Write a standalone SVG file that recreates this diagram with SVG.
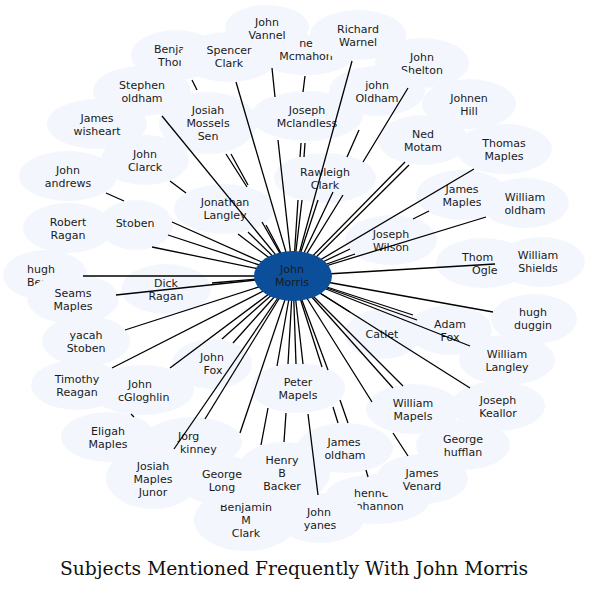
<svg xmlns="http://www.w3.org/2000/svg" width="589" height="590" viewBox="0 0 589 590">
<style>
.n ellipse{fill:#f3f7fd}
.c ellipse{fill:#0b4f9b}
text{font-family:"DejaVu Sans","Liberation Sans",sans-serif;font-size:11px;fill:#1a1a1a;text-anchor:middle}
text.s{text-anchor:start}
.e path{stroke:#000;stroke-width:1.3;fill:none}
.t{font-family:"DejaVu Serif","Liberation Serif",serif;font-size:18px;fill:#111}
</style>
<rect width="589" height="590" fill="#fff"/>
<g id="n-mcmahon" class="n"><ellipse cx="306" cy="55" rx="48" ry="20"/><text x="306" y="47">ne</text><text x="306" y="60">Mcmahon</text></g>
<g id="n-richard-warnel" class="n"><ellipse cx="358" cy="35" rx="48" ry="25"/><text x="358" y="32.5">Richard</text><text x="358" y="45.5">Warnel</text></g>
<g id="n-benja" class="n"><ellipse cx="176" cy="55" rx="45" ry="25"/><text class="s" x="154" y="52.5">Benja</text><text class="s" x="158" y="65.5">Thor</text></g>
<g id="n-spencer-clark" class="n"><ellipse cx="229" cy="57" rx="49" ry="25"/><text x="229" y="54">Spencer</text><text x="229" y="67">Clark</text></g>
<g id="n-john-vannel" class="n"><ellipse cx="267" cy="27" rx="42" ry="22"/><text x="267" y="26">John</text><text x="267" y="39">Vannel</text></g>
<g id="n-john-shelton" class="n"><ellipse cx="422" cy="63" rx="47" ry="25"/><text x="422" y="60.5">John</text><text x="422" y="73.5">Shelton</text></g>
<g id="n-stephen-oldham" class="n"><ellipse cx="142" cy="91" rx="49" ry="25"/><text x="142" y="88.5">Stephen</text><text x="142" y="101.5">oldham</text></g>
<g id="n-john-oldham" class="n"><ellipse cx="377" cy="91" rx="48" ry="25"/><text x="377" y="88.5">john</text><text x="377" y="101.5">Oldham</text></g>
<g id="n-johnen-hill" class="n"><ellipse cx="469" cy="104" rx="47" ry="25"/><text x="469" y="101.5">Johnen</text><text x="469" y="114.5">Hill</text></g>
<g id="n-james-wisheart" class="n"><ellipse cx="97" cy="124" rx="50" ry="25"/><text x="97" y="121.5">James</text><text x="97" y="134.5">wisheart</text></g>
<g id="n-josiah-mossels-sen" class="n"><ellipse cx="208" cy="123" rx="49" ry="31"/><text x="208" y="114">Josiah</text><text x="208" y="127">Mossels</text><text x="208" y="140">Sen</text></g>
<g id="n-joseph-mclandless" class="n"><ellipse cx="307" cy="116" rx="56" ry="25"/><text x="307" y="113.5">Joseph</text><text x="307" y="126.5">Mclandless</text></g>
<g id="n-ned-motam" class="n"><ellipse cx="423" cy="140" rx="45" ry="25"/><text x="423" y="137.5">Ned</text><text x="423" y="150.5">Motam</text></g>
<g id="n-thomas-maples" class="n"><ellipse cx="504" cy="149" rx="48" ry="25"/><text x="504" y="146.5">Thomas</text><text x="504" y="159.5">Maples</text></g>
<g id="n-john-clarck" class="n"><ellipse cx="145" cy="160" rx="44" ry="25"/><text x="145" y="157.5">John</text><text x="145" y="170.5">Clarck</text></g>
<g id="n-john-andrews" class="n"><ellipse cx="68" cy="176" rx="49" ry="25"/><text x="68" y="173.5">John</text><text x="68" y="186.5">andrews</text></g>
<g id="n-rawleigh-clark" class="n"><ellipse cx="325" cy="178" rx="51" ry="25"/><text x="325" y="175.5">Rawleigh</text><text x="325" y="188.5">Clark</text></g>
<g id="n-james-maples" class="n"><ellipse cx="462" cy="195" rx="46" ry="25"/><text x="462" y="192.5">James</text><text x="462" y="205.5">Maples</text></g>
<g id="n-william-oldham" class="n"><ellipse cx="525" cy="203" rx="44" ry="25"/><text x="525" y="200.5">William</text><text x="525" y="213.5">oldham</text></g>
<g id="n-jonathan-langley" class="n"><ellipse cx="224" cy="209" rx="50" ry="25"/><text x="225" y="205.5">Jonathan</text><text x="225" y="218.5">Langley</text></g>
<g id="n-robert-ragan" class="n"><ellipse cx="68" cy="228" rx="45" ry="25"/><text x="68" y="225.5">Robert</text><text x="68" y="238.5">Ragan</text></g>
<g id="n-stoben" class="n"><ellipse cx="136" cy="225" rx="37" ry="25"/><text x="135" y="227">Stoben</text></g>
<g id="n-joseph-wilson" class="n"><ellipse cx="391" cy="240" rx="46" ry="25"/><text x="391" y="237.5">Joseph</text><text x="391" y="250.5">Wilson</text></g>
<g id="n-thomas-ogle" class="n"><ellipse cx="483" cy="263" rx="47" ry="25"/><text class="s" x="462" y="260.5">Thom</text><text class="s" x="472" y="273.5">Ogle</text></g>
<g id="n-william-shields" class="n"><ellipse cx="541" cy="262" rx="44" ry="25"/><text x="538" y="258.5">William</text><text x="538" y="271.5">Shields</text></g>
<g id="n-hugh-ben" class="n"><ellipse cx="45" cy="275" rx="42" ry="25"/><text class="s" x="27" y="272.5">hugh</text><text class="s" x="27" y="285.5">Ben</text></g>
<g id="n-dick-ragan" class="n"><ellipse cx="166" cy="289" rx="45" ry="25"/><text x="166" y="286.5">Dick</text><text x="166" y="299.5">Ragan</text></g>
<g id="n-seams-maples" class="n"><ellipse cx="73" cy="299" rx="46" ry="25"/><text x="73" y="296.5">Seams</text><text x="73" y="309.5">Maples</text></g>
<g id="n-hugh-duggin" class="n"><ellipse cx="534" cy="319" rx="43" ry="25"/><text x="533" y="315.5">hugh</text><text x="533" y="328.5">duggin</text></g>
<g id="n-adam-fox" class="n"><ellipse cx="450" cy="330" rx="42" ry="25"/><text x="450" y="327.5">Adam</text><text x="450" y="340.5">Fox</text></g>
<g id="n-catlet" class="n"><ellipse cx="383" cy="334" rx="38" ry="25"/><text x="382" y="338">Catlet</text></g>
<g id="n-yacah-stoben" class="n"><ellipse cx="86" cy="341" rx="44" ry="25"/><text x="86" y="338.5">yacah</text><text x="86" y="351.5">Stoben</text></g>
<g id="n-william-langley" class="n"><ellipse cx="507" cy="360" rx="48" ry="25"/><text x="507" y="357.5">William</text><text x="507" y="370.5">Langley</text></g>
<g id="n-john-fox" class="n"><ellipse cx="212" cy="364" rx="40" ry="25"/><text x="212" y="361">John</text><text x="213" y="374">Fox</text></g>
<g id="n-john-mcgloghlin" class="n"><ellipse cx="142" cy="390" rx="52" ry="25"/><text x="140" y="387.5">John</text><text class="s" x="118" y="400.5">cGloghlin</text></g>
<g id="n-timothy-reagan" class="n"><ellipse cx="77" cy="385" rx="46" ry="25"/><text x="77" y="382.5">Timothy</text><text x="77" y="395.5">Reagan</text></g>
<g id="n-peter-mapels" class="n"><ellipse cx="298" cy="388" rx="47" ry="25"/><text x="298" y="385.5">Peter</text><text x="298" y="398.5">Mapels</text></g>
<g id="n-joseph-keallor" class="n"><ellipse cx="498" cy="406" rx="47" ry="25"/><text x="498" y="403.5">Joseph</text><text x="498" y="416.5">Keallor</text></g>
<g id="n-william-mapels" class="n"><ellipse cx="413" cy="409" rx="47" ry="25"/><text x="413" y="406.5">William</text><text x="413" y="419.5">Mapels</text></g>
<g id="n-eligah-maples" class="n"><ellipse cx="108" cy="437" rx="47" ry="25"/><text x="108" y="435">Eligah</text><text x="108" y="448">Maples</text></g>
<g id="n-jorg-mckinney" class="n"><ellipse cx="192" cy="442" rx="50" ry="25"/><text class="s" x="178" y="439.5">Jorg</text><text class="s" x="180" y="452.5">kinney</text></g>
<g id="n-george-hufflan" class="n"><ellipse cx="463" cy="445" rx="47" ry="25"/><text x="463" y="442.5">George</text><text x="463" y="455.5">hufflan</text></g>
<g id="n-james-oldham" class="n"><ellipse cx="345" cy="448" rx="48" ry="25"/><text x="344" y="445.5">James</text><text x="345" y="458.5">oldham</text></g>
<g id="n-josiah-maples-junor" class="n"><ellipse cx="153" cy="478" rx="47" ry="31"/><text x="153" y="469.5">Josiah</text><text x="153" y="482.5">Maples</text><text x="153" y="495.5">Junor</text></g>
<g id="n-benjamin-m-clark" class="n"><ellipse cx="246" cy="520" rx="52" ry="31"/><text x="246" y="511">Benjamin</text><text x="246" y="524">M</text><text x="246" y="537">Clark</text></g>
<g id="n-henry-b-backer" class="n"><ellipse cx="283" cy="473" rx="47" ry="31"/><text x="282" y="464">Henry</text><text x="282" y="477">B</text><text x="282" y="490">Backer</text></g>
<g id="n-george-long" class="n"><ellipse cx="220" cy="480" rx="41" ry="25"/><text x="222" y="478">George</text><text x="222" y="491">Long</text></g>
<g id="n-bohannon" class="n"><ellipse cx="377" cy="499" rx="53" ry="25"/><text class="s" x="354" y="496.5">henne</text><text x="376" y="509.5">Bohannon</text></g>
<g id="n-james-venard" class="n"><ellipse cx="422" cy="479" rx="46" ry="25"/><text x="422" y="476.5">James</text><text x="422" y="489.5">Venard</text></g>
<g id="n-john-yanes" class="n"><ellipse cx="320" cy="518" rx="44" ry="25"/><text x="319" y="515.5">John</text><text x="320" y="528.5">yanes</text></g>
<g id="edges" class="e">
<path d="M162,116L293,276"/>
<path d="M192,80L197,90M231,154L248,185M266,225L293,276"/>
<path d="M226,154L247,187M262,222L293,276"/>
<path d="M236,82L293,276"/>
<path d="M272,68L275,97M278,140L293,276"/>
<path d="M305,76L303,92M301,143L300,157M298,200L293,276"/>
<path d="M305,143L304,157M302,200L293,276"/>
<path d="M352,61L293,276"/>
<path d="M359,130L347,157M333,192L293,276"/>
<path d="M408,88L363,162M343,195L293,276"/>
<path d="M405,162L293,276"/>
<path d="M409,165L295,278"/>
<path d="M474,169L293,276"/>
<path d="M429,211L413,219M350,249L293,276"/>
<path d="M486,217L293,276"/>
<path d="M355,254L293,276"/>
<path d="M495,264L293,276"/>
<path d="M493,312L293,276"/>
<path d="M417,320L293,276"/>
<path d="M413,315L293,276"/>
<path d="M470,346L293,276"/>
<path d="M470,388L293,276"/>
<path d="M393,388L293,276"/>
<path d="M403,386L293,276"/>
<path d="M372,402L293,276M393,433L408,456"/>
<path d="M322,367L293,276M333,407L338,423"/>
<path d="M328,370L293,276M340,400L348,423"/>
<path d="M366,470L368,477"/>
<path d="M303,364L293,276M308,414L318,495"/>
<path d="M288,364L293,276M286,413L284,442"/>
<path d="M296,364L293,276"/>
<path d="M277,366L293,276M268,408L261,445"/>
<path d="M240,433L293,276"/>
<path d="M205,419L293,276"/>
<path d="M174,449L293,276"/>
<path d="M222,339L293,276"/>
<path d="M233,343L293,276"/>
<path d="M170,368L293,276"/>
<path d="M112,368L293,276"/>
<path d="M131,414L134,417"/>
<path d="M125,330L293,276"/>
<path d="M116,295L293,276"/>
<path d="M83,276L293,276"/>
<path d="M212,283L293,276"/>
<path d="M152,247L293,276"/>
<path d="M168,235L293,276"/>
<path d="M106,193L124,201M172,222L293,276"/>
<path d="M170,181L186,193M238,234L293,276"/>
<path d="M248,232L293,276"/>
<path d="M318,200L293,276"/>
<path d="M350,312L293,276"/>
</g>
<g id="n-john-morris" class="c"><ellipse cx="293" cy="276" rx="39" ry="25"/><text x="292" y="272.5">John</text><text x="292" y="285.5">Morris</text></g>
<text class="t" x="294" y="575" textLength="468" lengthAdjust="spacingAndGlyphs">Subjects Mentioned Frequently With John Morris</text>
</svg>
